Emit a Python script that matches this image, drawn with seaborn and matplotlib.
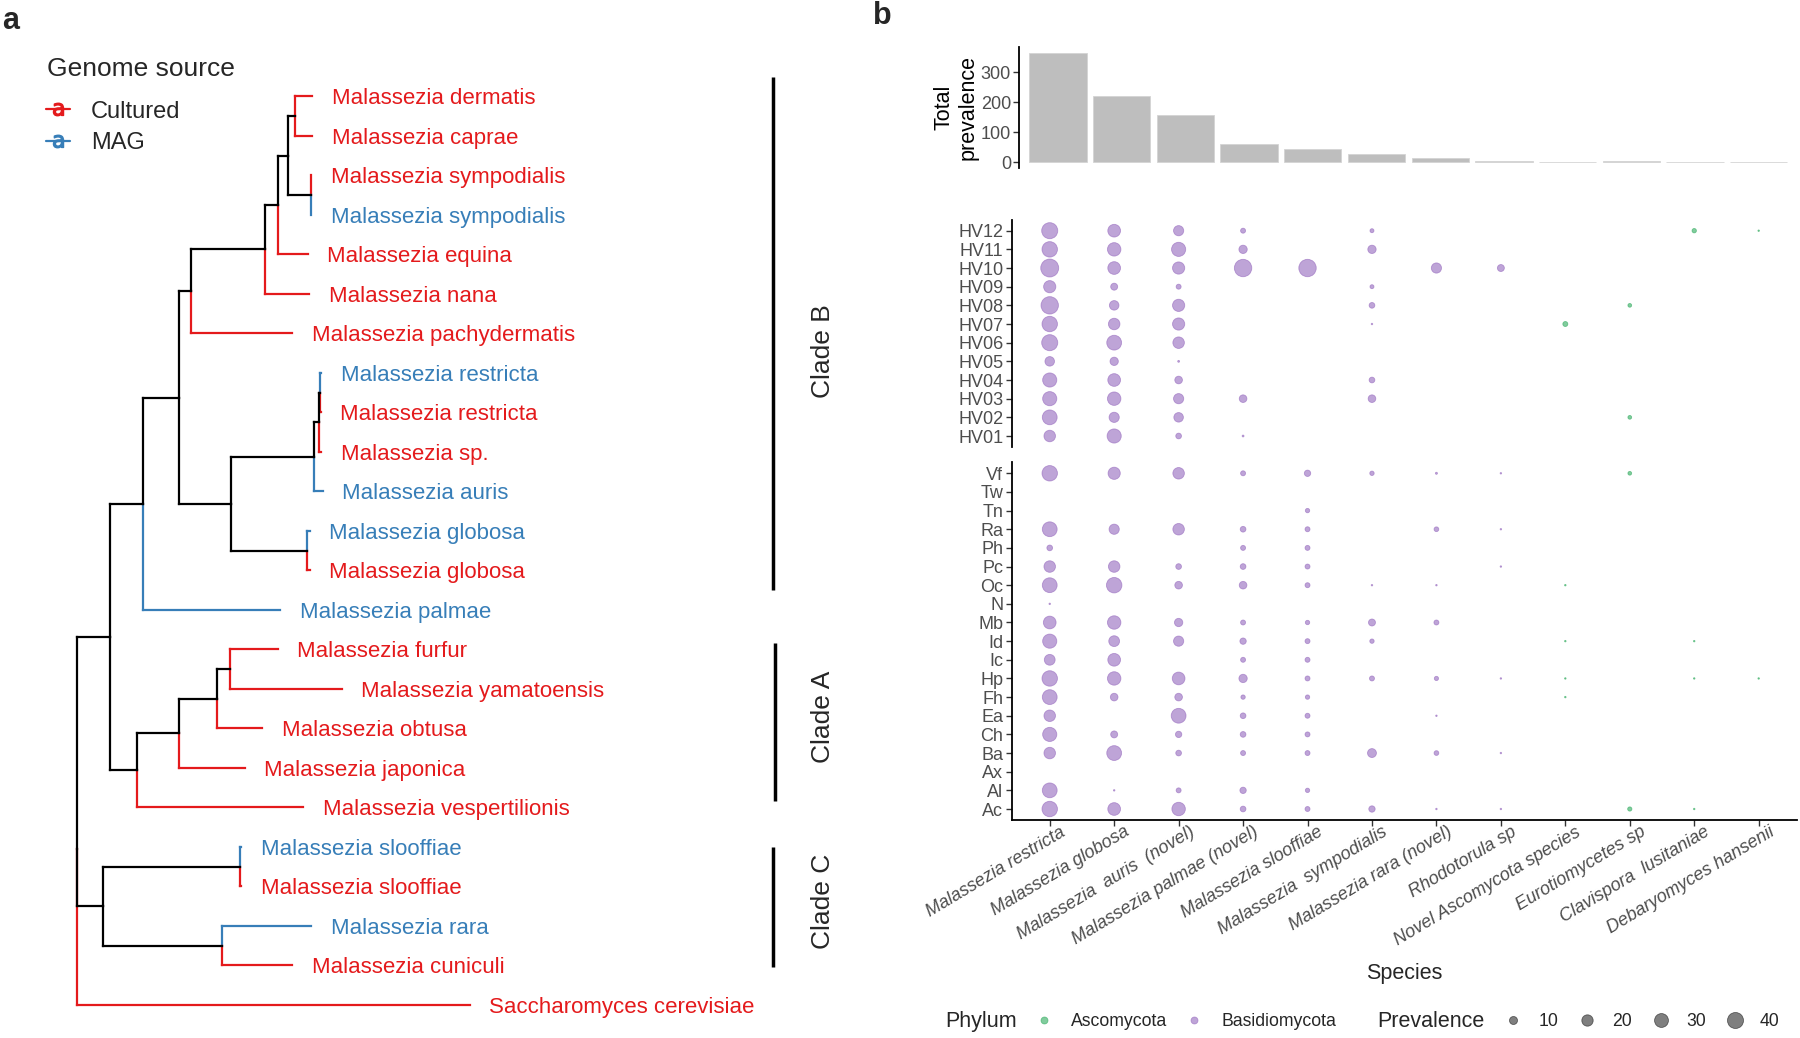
import numpy as np
import pandas as pd
import seaborn as sns
import matplotlib.pyplot as plt
from matplotlib.lines import Line2D
from matplotlib.transforms import ScaledTranslation

sns.set_theme(style="white")
plt.rcParams['font.family'] = ['Liberation Sans', 'DejaVu Sans']

CULTURED = '#E41A1C'
MAG = '#377EB8'
BASIDIO = '#9467BD'
ASCO = '#2EAA5C'
TICK_TXT = '#4D4D4D'

## ---- panel a : phylogeny ----
tip_labels = ['Malassezia dermatis', 'Malassezia caprae', 'Malassezia sympodialis', 'Malassezia sympodialis',
              'Malassezia equina', 'Malassezia nana', 'Malassezia pachydermatis', 'Malassezia restricta',
              'Malassezia restricta', 'Malassezia sp.', 'Malassezia auris', 'Malassezia globosa',
              'Malassezia globosa', 'Malassezia palmae', 'Malassezia furfur', 'Malassezia yamatoensis',
              'Malassezia obtusa', 'Malassezia japonica', 'Malassezia vespertilionis', 'Malassezia slooffiae',
              'Malassezia slooffiae', 'Malassezia rara', 'Malassezia cuniculi', 'Saccharomyces cerevisiae']
tip_source = ['Cultured', 'Cultured', 'Cultured', 'MAG', 'Cultured', 'Cultured', 'Cultured', 'MAG',
              'Cultured', 'Cultured', 'MAG', 'MAG', 'Cultured', 'MAG', 'Cultured', 'Cultured',
              'Cultured', 'Cultured', 'Cultured', 'MAG', 'Cultured', 'MAG', 'Cultured', 'Cultured']
# tips are t<index into tip_labels>
newick = ("(((("
          "(((((t0:0.015,t1:0.015):0.0064,(t2:0.0005,t3:0.0005):0.0199):0.0081,t4:0.0255):0.0115,t5:0.0385):0.0642,t6:0.0877)"
          ":0.011,"
          "((((t7:0.001,t8:0.0005):0.001,t9:0.002):0.0045,t10:0.0075):0.0722,(t11:0.0027,t12:0.0027):0.0657)"
          ":0.0455):0.0316,t13:0.1201):0.028,"
          "((((t14:0.042,t15:0.0975):0.011,t16:0.0396):0.033,t17:0.0574):0.0364,t18:0.1444)"
          ":0.0234):0.0292,"
          "((t19:0.001,t20:0.001):0.1197,(t21:0.0772,t22:0.0607):0.1045)"
          ":0.0223,t23:0.342);")
clade_names = ['Clade B', 'Clade A', 'Clade C']

## ---- panel b : prevalence ----
species = ['Malassezia restricta', 'Malassezia globosa', 'Malassezia  auris  (novel)', 'Malassezia palmae (novel)',
           'Malassezia slooffiae', 'Malassezia  sympodialis', 'Malassezia rara (novel)', 'Rhodotorula sp',
           'Novel Ascomycota species', 'Eurotiomycetes sp', 'Clavispora  lusitaniae', 'Debaryomyces hansenii']
phylum = ['Basidiomycota'] * 8 + ['Ascomycota'] * 4
total_prevalence = [366, 221, 159, 60, 44, 29, 16, 5.6, 2.5, 3.3, 2.2, 1.0]

human_sites = ['HV12', 'HV11', 'HV10', 'HV09', 'HV08', 'HV07', 'HV06', 'HV05', 'HV04', 'HV03', 'HV02', 'HV01']
human_prev = [
    [40, 25, 16, 3.7, 0, 2.3, 0, 0, 0, 0, 2.8, 0.2],
    [37, 28, 31, 10.6, 0, 10.6, 0, 0, 0, 0, 0, 0],
    [50, 25, 23, 47, 47, 0, 16, 7.4, 0, 0, 0, 0],
    [23, 7.4, 3.7, 0, 0, 2.3, 0, 0, 0, 0, 0, 0],
    [47, 14, 23, 0, 0, 4.9, 0, 0, 0, 2, 0, 0],
    [37, 20.5, 23, 0, 0, 0.2, 0, 0, 3.7, 0, 0, 0],
    [40, 34, 20.5, 0, 0, 0, 0, 0, 0, 0, 0, 0],
    [14, 10.6, 0.4, 0, 0, 0, 0, 0, 0, 0, 0, 0],
    [31, 25, 8.9, 0, 0, 4.9, 0, 0, 0, 0, 0, 0],
    [31, 28, 16, 8.9, 0, 8.9, 0, 0, 0, 0, 0, 0],
    [34, 16, 14, 0, 0, 0, 0, 0, 0, 2, 0, 0],
    [20.5, 31, 4.9, 0.4, 0, 0, 0, 0, 0, 0, 0, 0],
]
animal_sites = ['Vf', 'Tw', 'Tn', 'Ra', 'Ph', 'Pc', 'Oc', 'N', 'Mb', 'Id', 'Ic', 'Hp', 'Fh', 'Ea', 'Ch', 'Ba',
                'Ax', 'Al', 'Ac']
animal_prev = [
    [37, 23, 20.5, 3.7, 6.1, 2.8, 0.5, 0.2, 0, 2, 0, 0],
    [0, 0, 0, 0, 0, 0, 0, 0, 0, 0, 0, 0],
    [0, 0, 0, 0, 2.8, 0, 0, 0, 0, 0, 0, 0],
    [34, 16, 20.5, 4.9, 3.7, 0, 3.3, 0.2, 0, 0, 0, 0],
    [4.9, 0, 0, 3.7, 3.7, 0, 0, 0, 0, 0, 0, 0],
    [20.5, 20.5, 4.9, 4.9, 3.7, 0, 0, 0.2, 0, 0, 0, 0],
    [34, 37, 8.9, 8.9, 3.7, 0.2, 0.2, 0, 0.2, 0, 0, 0],
    [0.2, 0, 0, 0, 0, 0, 0, 0, 0, 0, 0, 0],
    [25, 28, 10.6, 3.7, 2.8, 7.4, 3.7, 0, 0, 0, 0, 0],
    [31, 18, 16, 6.1, 3.7, 2.8, 0, 0, 0.2, 0, 0.2, 0],
    [18, 25, 0, 3.7, 3.7, 0, 0, 0, 0, 0, 0, 0],
    [37, 28, 25, 10.6, 3.7, 3.7, 2.6, 0.2, 0.2, 0, 0.2, 0.2],
    [34, 8.9, 8.9, 2.8, 2.8, 0, 0, 0, 0.2, 0, 0, 0],
    [20.5, 0, 34, 4.9, 3.7, 0, 0.2, 0, 0, 0, 0, 0],
    [31, 7.4, 6.1, 4.9, 3.7, 0, 0, 0, 0, 0, 0, 0],
    [20.5, 34, 4.9, 3.7, 3.7, 12.2, 3.3, 0.2, 0, 0, 0, 0],
    [0, 0, 0, 0, 0, 0, 0, 0, 0, 0, 0, 0],
    [34, 0.2, 3.7, 6.1, 2.8, 0, 0, 0, 0, 0, 0, 0],
    [37, 25, 28, 4.9, 3.7, 6.1, 0.2, 0.2, 0, 2.6, 0.2, 0],
]
size_legend = [10, 20, 30, 40]


def parse_newick(s):
    pos = 0

    def read():
        nonlocal pos
        kids = []
        if s[pos] == '(':
            pos += 1
            kids.append(read())
            while s[pos] == ',':
                pos += 1
                kids.append(read())
            pos += 1
        j = pos
        while s[pos] not in ':,);':
            pos += 1
        name = s[j:pos]
        blen = 0.0
        if s[pos] == ':':
            pos += 1
            j = pos
            while s[pos] not in ',);':
                pos += 1
            blen = float(s[j:pos])
        return {'name': name, 'blen': blen, 'kids': kids}
    return read()


def place(node, x0=0.0):
    node['x'] = x0 + node['blen']
    if node['kids']:
        for k in node['kids']:
            place(k, node['x'])
        node['y'] = np.mean([k['y'] for k in node['kids']])
    else:
        node['y'] = int(node['name'][1:])


def collect(node, out):
    for k in node['kids']:
        out.append((node, k))
        collect(k, out)
    return out


W, H = 1800, 1038
fig = plt.figure(figsize=(18, 10.38), dpi=100)


def px_rect(l, t, r, b):
    return [l / W, 1 - b / H, (r - l) / W, (b - t) / H]


# tree
ax_t = fig.add_axes([0, 0, 0.5, 1])
ax_t.set_xlim(-0.067, 0.717)
ax_t.set_ylim(23.84, -2.44)
ax_t.axis('off')

tree = parse_newick(newick)
place(tree)
src_col = {'Cultured': CULTURED, 'MAG': MAG}
edges = collect(tree, [])
for par, ch in sorted(edges, key=lambda e: bool(e[1]['kids'])):
    if ch['kids']:
        c = 'black'
    else:
        c = src_col[tip_source[int(ch['name'][1:])]]
    ax_t.plot([par['x'], par['x']], [par['y'], ch['y']], color=c, lw=1.6, solid_capstyle='projecting')
    ax_t.plot([par['x'], ch['x']], [ch['y'], ch['y']], color=c, lw=1.6, solid_capstyle='projecting')
    if not ch['kids']:
        i = int(ch['name'][1:])
        ax_t.text(ch['x'] + 0.017, ch['y'], tip_labels[i], color=c, fontsize=16, va='center_baseline', ha='left')

clade_span = [(-0.5, 12.5), (13.85, 17.85), (19.0, 22.05)]
clade_bar_x = [0.6066, 0.6084, 0.6066]
clade_text_y = [6.45, 15.72, 20.37]
for name, (lo, hi), bx, ty in zip(clade_names, clade_span, clade_bar_x, clade_text_y):
    ax_t.plot([bx, bx], [lo, hi], color='black', lw=2.5, solid_capstyle='butt')
    ax_t.text(0.6497, ty, name, rotation=90, ha='center', va='center', fontsize=19)

fig.text(47 / W, 1 - 69.5 / H, 'Genome source', fontsize=19, va='center', ha='left')
src_handles = [Line2D([], [], color=CULTURED, lw=1.6, marker='$\\mathrm{a}$', markersize=9),
               Line2D([], [], color=MAG, lw=1.6, marker='$\\mathrm{a}$', markersize=9)]
fig.legend(src_handles, ['Cultured', 'MAG'], loc='upper left', bbox_to_anchor=(46 / W, 1 - 100.5 / H),
           frameon=False, fontsize=17, handlelength=1.0, handletextpad=0.9, labelspacing=0.42,
           borderpad=0, borderaxespad=0)

fig.text(11 / W, 1 - 21 / H, 'a', fontsize=22, fontweight='bold', ha='center', va='center')
fig.text(882 / W, 1 - 16 / H, 'b', fontsize=22, fontweight='bold', ha='center', va='center')

# bar chart
ax_b = fig.add_axes(px_rect(1019.3, 46.6, 1797.4, 167.8))
sns.barplot(x=species, y=total_prevalence, color='#BEBEBE', saturation=1, width=0.9,
            edgecolor='#D4D4D4', linewidth=0.6, ax=ax_b)
ax_b.set_xlim(-0.607, 11.607)
ax_b.set_ylim(-18.3, 385.7)
ax_b.set_yticks([0, 100, 200, 300])
ax_b.set_xticks([])
ax_b.set_ylabel('Total\nprevalence', fontsize=15.5, color='black')
ax_b.yaxis.set_label_coords(-0.052, 0.5)

# dot plots
pal = {'Ascomycota': ASCO, 'Basidiomycota': BASIDIO}
S_MIN, S_MAX, V_MAX = 0.5, 167, 50


def long_table(sites, rows):
    recs = []
    for r, (site, vals) in enumerate(zip(sites, rows)):
        for c, v in enumerate(vals):
            if v > 0:
                recs.append({'site': site, 'row': r, 'species': species[c], 'col': c,
                             'phylum': phylum[c], 'prevalence': v})
    return pd.DataFrame(recs)


ax1 = fig.add_axes(px_rect(1011.7, 219.5, 1796.7, 447.2))
ax2 = fig.add_axes(px_rect(1011.7, 462.1, 1796.7, 820.2))
for ax, sites, rows in [(ax1, human_sites, human_prev), (ax2, animal_sites, animal_prev)]:
    df = long_table(sites, rows)
    sns.scatterplot(data=df, x='col', y='row', hue='phylum', palette=pal, size='prevalence',
                    sizes=(S_MIN, S_MAX), size_norm=(0, V_MAX), alpha=0.6, edgecolor='face',
                    linewidth=0.6, legend=False, ax=ax)
    ax.set_xlim(-0.59, 11.59)
    ax.set_ylim(len(sites) - 0.4, -0.6)
    ax.set_yticks(range(len(sites)))
    ax.set_yticklabels(sites)
    ax.set_xlabel('')
    ax.set_ylabel('')

ax1.set_xticks([])
ax2.set_xticks(range(len(species)))
ax2.set_xticklabels(species, rotation=31, ha='right', rotation_mode='anchor', style='italic',
                    fontsize=13, color=TICK_TXT)
ax2.set_xlabel('Species', fontsize=15.5)
ax2.xaxis.set_label_coords(0.5, -0.40)

for ax in [ax_b, ax1, ax2]:
    sns.despine(ax=ax, top=True, right=True, bottom=(ax is not ax2))
    for sp in ax.spines.values():
        sp.set_linewidth(1.3)
        sp.set_color('black')
    ax.tick_params(axis='y', left=True, length=4, width=1, color='#333333', labelsize=13,
                   labelcolor=TICK_TXT, pad=2)
    ax.set_facecolor('none')
ax2.tick_params(axis='x', bottom=True, length=4, width=1, color='#333333', pad=2)

# nudge the rotated species labels (after tick_params, which resets label transforms)
shift = ScaledTranslation(10 / 100, 5 / 100, fig.dpi_scale_trans)
for lab in ax2.get_xticklabels():
    lab.set_transform(lab.get_transform() + shift)

# bottom legend
ly = 1 - 1021.7 / H
fig.text(945 / W, ly, 'Phylum', fontsize=15.5, va='center', ha='left')
phy_handles = [Line2D([], [], ls='', marker='o', markersize=5, markerfacecolor=ASCO, markeredgecolor=ASCO,
                      markeredgewidth=0.6, alpha=0.6),
               Line2D([], [], ls='', marker='o', markersize=5, markerfacecolor=BASIDIO, markeredgecolor=BASIDIO,
                      markeredgewidth=0.6, alpha=0.6)]
fig.legend(phy_handles, ['Ascomycota', 'Basidiomycota'], loc='center left',
           bbox_to_anchor=(1034.7 / W, ly), ncol=2, frameon=False, fontsize=12.7,
           handlelength=1.0, handletextpad=1.06, columnspacing=1.0, borderpad=0, borderaxespad=0)
fig.text(1377.6 / W, ly, 'Prevalence', fontsize=15.5, va='center', ha='left')
size_handles = [Line2D([], [], ls='', marker='o', markersize=np.sqrt(S_MIN + (S_MAX - S_MIN) * v / V_MAX),
                       markerfacecolor='black', markeredgecolor='black', markeredgewidth=0.6, alpha=0.5)
                for v in size_legend]
fig.legend(size_handles, [str(v) for v in size_legend], loc='center left',
           bbox_to_anchor=(1502.5 / W, ly), ncol=4, frameon=False, fontsize=12.7,
           handlelength=1.2, handletextpad=0.82, columnspacing=1.05, borderpad=0, borderaxespad=0)

fig.savefig('out.png', dpi=100, facecolor='white')
